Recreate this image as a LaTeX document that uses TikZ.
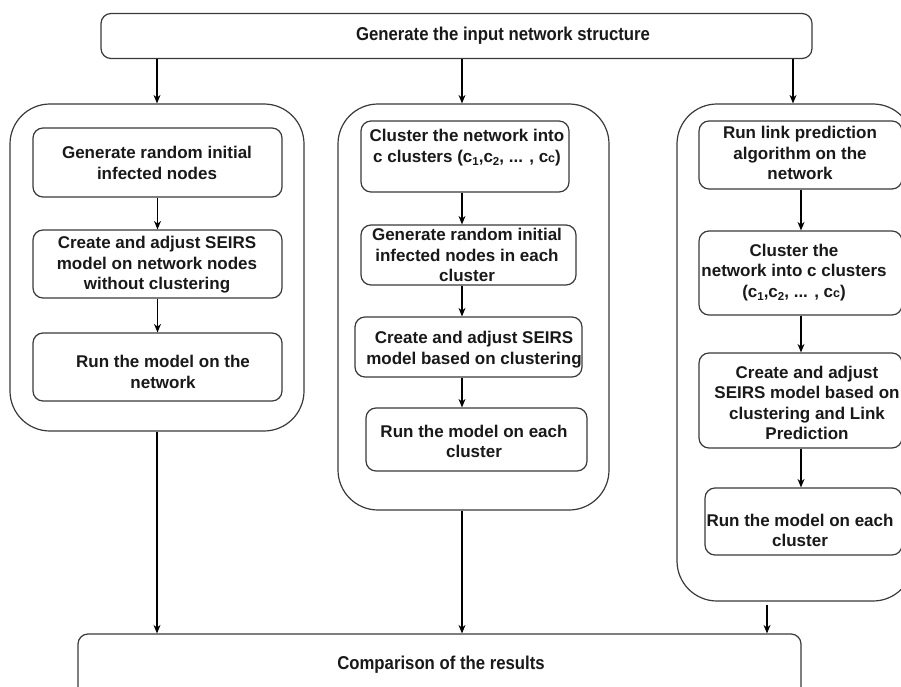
\documentclass[tikz,border=0pt]{standalone}
\usepackage{fontspec}
\setmainfont{Liberation Sans}
\newfontfamily\headfont[FakeStretch=0.9]{Liberation Sans}
\usetikzlibrary{arrows.meta}
\definecolor{edge}{HTML}{3A3A3A}
% subscripts and the small trailing c in the cluster labels
\newcommand\csub[1]{\raisebox{-3.5pt}{\fontsize{11.5}{12}\selectfont #1}}
\newcommand\csmall{{\fontsize{12.5}{12}\selectfont c}}

\begin{document}
\begin{tikzpicture}[x=1pt,y=-1pt,
  outer/.style={draw=edge, line width=1.2pt, rounded corners=40pt, inner sep=0pt},
  stepbox/.style={draw=edge, line width=1.2pt, rounded corners=10pt, inner sep=0pt},
  txt/.style={align=center, inner sep=0pt, text=black!90,
              font=\fontsize{17}{20.5}\selectfont\bfseries},
  head/.style={align=center, inner sep=0pt, text=black!90,
               font=\headfont\fontsize{18.6}{20}\selectfont\bfseries},
  arr/.style={-{Stealth[length=8.5pt,width=7pt]}, line width=1.1pt, black}]

\useasboundingbox (0,0) rectangle (901,687);
\fill[white] (0,0) rectangle (901,687);
\clip (0,0) rectangle (901,687);

% columns of arrows
\coordinate (mx) at (462,0);
\coordinate (rx) at (793,0);
\coordinate (rx2) at (801,0);
\coordinate (rx3) at (767,0);

% top and bottom steps
\node[stepbox, minimum width=711pt, minimum height=45pt] (top) at (456.5,36) {};
\node[head] (toptxt) at (503,36) {Generate the input network structure};
\node[stepbox, minimum width=723pt, minimum height=80pt] (bot) at (439.5,674) {};
\node[head] (bottxt) at (441,665) {Comparison of the results};

% left column: without clustering
\node[outer, minimum width=294pt, minimum height=327pt] (L) at (157,267.5) {};
\node[stepbox, minimum width=249pt, minimum height=69pt] (L1) at (157.5,162.5) {};
\node[stepbox, minimum width=249pt, minimum height=68pt] (L2) at (157.5,264) {};
\node[stepbox, minimum width=249pt, minimum height=68pt] (L3) at (157.5,367) {};
\node[txt] (L1t) at (157,163) {Generate random initial\\infected nodes};
\node[txt] (L2t) at (157,265) {Create and adjust SEIRS\\model on network nodes\\without clustering};
\node[txt] (L3t) at (163,372) {Run the model on the\\network};

% middle column: with clustering
\node[outer, minimum width=271pt, minimum height=406pt] (M) at (473.5,307) {};
\node[stepbox, minimum width=208pt, minimum height=71pt] (M1) at (465,156.5) {};
\node[stepbox, minimum width=215pt, minimum height=60pt] (M2) at (468.5,255) {};
\node[stepbox, minimum width=227pt, minimum height=60pt] (M3) at (468.5,347) {};
\node[stepbox, minimum width=221pt, minimum height=63pt] (M4) at (476.5,439.5) {};
\node[txt] (M1t) at (467,147.5) {Cluster the network into\\c clusters (c\csub{1},c\csub{2}, ... , c\csmall)};
\node[txt] (M2t) at (467,255) {Generate random initial\\infected nodes in each\\cluster};
\node[txt] (M3t) at (474,349.5) {Create and adjust SEIRS\\model based on clustering};
\node[txt] (M4t) at (474,441.5) {Run the model on each\\cluster};

% right column: clustering with link prediction
\node[outer, minimum width=236pt, minimum height=497pt] (R) at (795,352.5) {};
\node[stepbox, minimum width=203pt, minimum height=68pt] (R1) at (800.5,155) {};
\node[stepbox, minimum width=203pt, minimum height=84pt] (R2) at (800.5,273) {};
\node[stepbox, minimum width=203pt, minimum height=95pt] (R3) at (800.5,400.5) {};
\node[stepbox, minimum width=197pt, minimum height=67pt] (R4) at (803.5,521.5) {};
\node[txt] (R1t) at (800,153) {Run link prediction\\algorithm on the\\network};
\node[txt] (R2t) at (794,272.5) {Cluster the\\network into c clusters\\(c\csub{1},c\csub{2}, ... , c\csmall)};
\node[txt] (R3t) at (807,403) {Create and adjust\\SEIRS model based on\\clustering and Link\\Prediction};
\node[txt] (R4t) at (800,530.5) {Run the model on each\\cluster};

% connectors
\draw[arr] (top.south -| L.north) -- (L.north);
\draw[arr] (top.south -| mx) -- (M.north -| mx);
\draw[arr] (top.south -| rx) -- (R.north -| rx);

\draw[arr] (L1) -- (L2);
\draw[arr] (L2) -- (L3);

\draw[arr] (M1.south -| mx) -- (M2.north -| mx);
\draw[arr] (M2.south -| mx) -- (M3.north -| mx);
\draw[arr] (M3.south -| mx) -- (M4.north -| mx);

\draw[arr] (R1.south -| rx2) -- (R2.north -| rx2);
\draw[arr] (R2.south -| rx2) -- (R3.north -| rx2);
\draw[arr] (R3.south -| rx2) -- (R4.north -| rx2);

\draw[arr] (L.south) -- (bot.north -| L.south);
\draw[arr] (M.south -| mx) -- (bot.north -| mx);
\draw[arr, shorten <=3pt] (R.south -| rx3) -- (bot.north -| rx3);
\end{tikzpicture}
\end{document}
